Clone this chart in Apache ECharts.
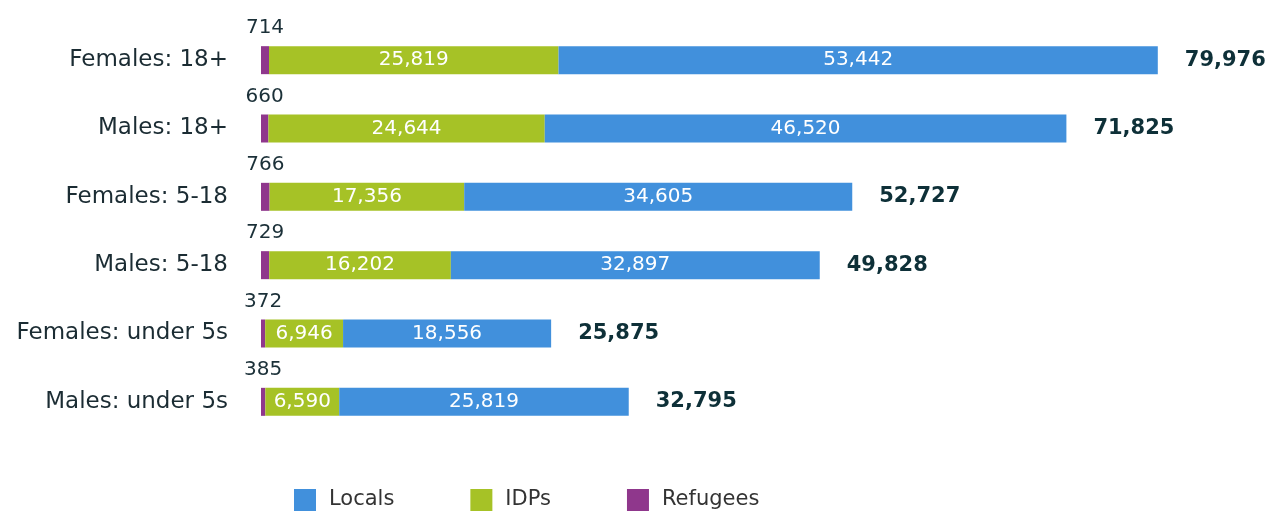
<!DOCTYPE html>
<html>
<head>
<meta charset="utf-8">
<script src="https://cdn.jsdelivr.net/npm/echarts@6/dist/echarts.min.js"></script>
<style>
  html, body { margin: 0; padding: 0; background: #fff; }
  #chart { width: 1268px; height: 512px; }
</style>
</head>
<body>
<div id="chart"></div>
<script>
const categories = ['Females: 18+', 'Males: 18+', 'Females: 5-18', 'Males: 5-18', 'Females: under 5s', 'Males: under 5s'];
const refugees = [714, 660, 766, 729, 372, 385];
const idps = [25819, 24644, 17356, 16202, 6946, 6590];
const locals = [53442, 46520, 34605, 32897, 18556, 25819];
const totals = [79976, 71825, 52727, 49828, 25875, 32795];

const fmt = v => v.toLocaleString('en-US');
const font = '"DejaVu Sans", sans-serif';

const option = {
    animation: false,
    grid: { left: 261, right: 9, top: 26, height: 410 },
    xAxis: {
        type: 'value',
        min: 0,
        max: 89000,
        show: false
    },
    yAxis: {
        type: 'category',
        inverse: true,
        data: categories,
        axisLine: { show: false },
        axisTick: { show: false },
        axisLabel: { color: '#1b2c33', fontSize: 23, fontFamily: font, margin: 33 }
    },
    legend: {
        data: ['Locals', 'IDPs', 'Refugees'],
        left: 289,
        top: 484,
        itemWidth: 22,
        itemHeight: 22,
        itemGap: 76,
        icon: 'rect',
        textStyle: { color: '#333', fontSize: 21, fontFamily: font, padding: [3, 0, 0, 8] }
    },
    series: [
        {
            name: 'Refugees',
            type: 'bar',
            stack: 'all',
            barWidth: 28,
            itemStyle: { color: '#8f378c' },
            label: {
                show: true,
                position: 'top',
                distance: 8,
                color: '#1b3038',
                fontSize: 20,
                fontFamily: font,
                formatter: p => fmt(p.value)
            },
            data: refugees
        },
        {
            name: 'IDPs',
            type: 'bar',
            stack: 'all',
            barWidth: 28,
            itemStyle: { color: '#a6c226' },
            label: {
                show: true,
                position: 'inside',
                color: '#fff',
                fontSize: 20,
                fontFamily: font,
                formatter: p => fmt(p.value)
            },
            data: idps
        },
        {
            name: 'Locals',
            type: 'bar',
            stack: 'all',
            barWidth: 28,
            itemStyle: { color: '#4190dc' },
            label: {
                show: true,
                position: 'inside',
                color: '#fff',
                fontSize: 20,
                fontFamily: font,
                formatter: p => fmt(p.value)
            },
            data: locals
        },
        {
            name: 'Total',
            type: 'bar',
            stack: 'all',
            barWidth: 28,
            itemStyle: { color: 'transparent' },
            label: {
                show: true,
                position: 'right',
                distance: 27,
                color: '#0e3038',
                fontSize: 21,
                fontWeight: 'bold',
                fontFamily: font,
                formatter: p => fmt(totals[p.dataIndex])
            },
            data: totals.map(() => 0)
        }
    ]
};

echarts.init(document.getElementById('chart')).setOption(option);
</script>
</body>
</html>
